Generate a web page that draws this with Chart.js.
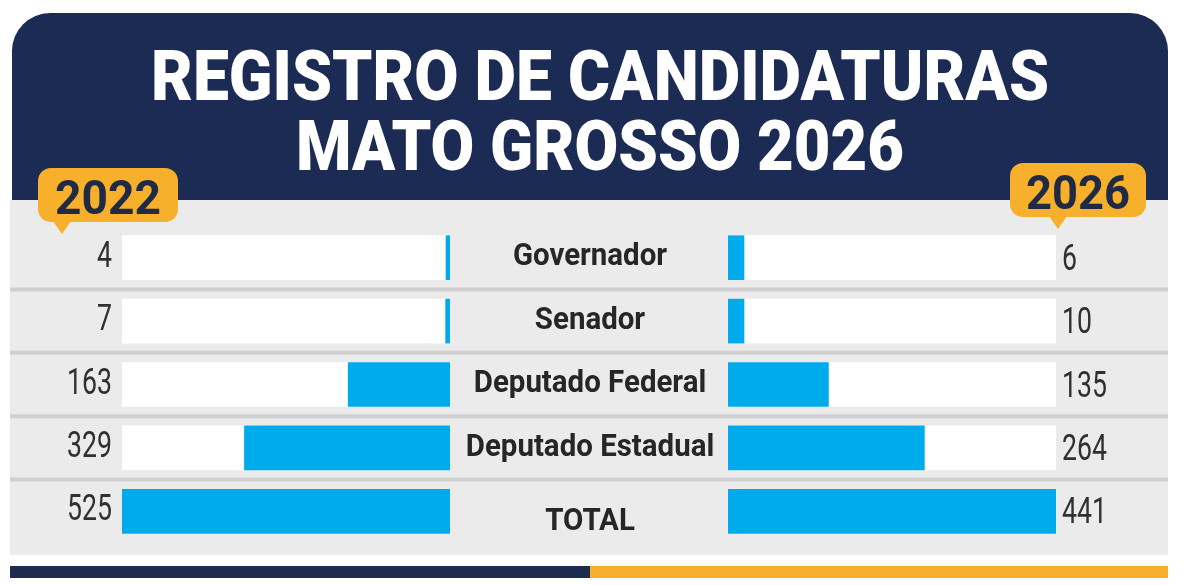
<!DOCTYPE html>
<html lang="pt-BR">
<head>
<meta charset="utf-8">
<title>Registro de candidaturas Mato Grosso 2026</title>
<script src="https://cdn.jsdelivr.net/npm/chart.js@4.4.1/dist/chart.umd.min.js"></script>
<style>
  html, body { margin: 0; padding: 0; background: #fff; }
  #page { position: relative; width: 1200px; height: 585px; overflow: hidden; font-family: Roboto, 'Noto Sans', sans-serif; }
  .abs { position: absolute; }
  #cabecalho { left: 12px; top: 13px; width: 1156px; height: 188px; background: #1c2b53; border-radius: 38px 38px 0 0; }
  #corpo { left: 10px; top: 200px; width: 1158px; height: 355px; background: #ebebeb; }
  #faixaAzul { left: 10px; top: 566px; width: 580px; height: 12px; background: #1d2b4f; }
  #faixaOuro { left: 590px; top: 566px; width: 578px; height: 12px; background: #f6b02d; }
  .linhaTitulo { left: 0; width: 1200px; text-align: center; color: #fff; font: 900 70px/70px Roboto, sans-serif; white-space: nowrap; }
  .linhaTitulo span, .selo span { display: inline-block; transform-origin: center center; }
  .selo { background: #f7b02b; border-radius: 13px; color: #1f2a44; font: bold 48px/54px Roboto, sans-serif; text-align: center; white-space: nowrap; box-sizing: border-box; padding-top: 3px; }
  .selo::after { content: ''; position: absolute; top: 53px; border-left: 9px solid transparent; border-right: 9px solid transparent; border-top: 13px solid #f7b02b; }
  #selo2022 { left: 38px; top: 168px; width: 140px; height: 54px; }
  #selo2022::after { left: 15px; }
  #selo2026 { left: 1010px; top: 163px; width: 136px; height: 54px; }
  #selo2026::after { left: 39px; }
  canvas { position: absolute; left: 0; top: 0; }
</style>
</head>
<body>
<div id="page">
  <div id="cabecalho" class="abs"></div>
  <div id="corpo" class="abs"></div>
  <div id="faixaAzul" class="abs"></div>
  <div id="faixaOuro" class="abs"></div>
  <div id="titulo1" class="abs linhaTitulo" style="top:41px"><span></span></div>
  <div id="titulo2" class="abs linhaTitulo" style="top:111px"><span></span></div>
  <canvas id="grafico2022" width="1200" height="585"></canvas>
  <canvas id="grafico2026" width="1200" height="585"></canvas>
  <div id="selo2022" class="abs selo"><span></span></div>
  <div id="selo2026" class="abs selo"><span></span></div>
</div>
<script>
//------------------------------------- Dados -------------------------------------
const titulo = ['REGISTRO DE CANDIDATURAS', 'MATO GROSSO 2026'];
const anos = ['2022', '2026'];
const categorias = ['Governador', 'Senador', 'Deputado Federal', 'Deputado Estadual', 'TOTAL'];
const valores2022 = [4, 7, 163, 329, 525];
const valores2026 = [6, 10, 135, 264, 441];

const AZUL = '#00abec';
const TEXTO = '#262626';
const NUMERO = '#303030';

//------------------------------------- Textos HTML -------------------------------------
// comprime o texto horizontalmente até a largura desejada
function ajustarLargura(el, largura) {
  const w = el.getBoundingClientRect().width;
  if (w > 0) el.style.transform = 'scaleX(' + (largura / w) + ')';
}

function preencher(id, texto, largura) {
  const span = document.querySelector('#' + id + ' span');
  span.textContent = texto;
  ajustarLargura(span, largura);
}

preencher('titulo1', titulo[0], 898);
preencher('titulo2', titulo[1], 608);
preencher('selo2022', anos[0], 106);
preencher('selo2026', anos[1], 104);

//------------------------------------- Desenho no canvas -------------------------------------
function textoCondensado(ctx, txt, x, y, align, escala) {
  ctx.save();
  ctx.translate(x, y);
  ctx.scale(escala, 1);
  ctx.textAlign = align;
  ctx.textBaseline = 'middle';
  ctx.fillText(txt, 0, 0);
  ctx.restore();
}

// linhas separadoras + rótulos das categorias + números de 2022
const pluginEsquerda = {
  id: 'rotulosEsquerda',
  beforeDatasetsDraw(chart) {
    const ctx = chart.ctx;
    const y = chart.scales.y;
    ctx.save();
    ctx.strokeStyle = '#cfcfcf';
    ctx.lineWidth = 4;
    for (let i = 0; i < categorias.length - 1; i++) {
      const yy = (y.getPixelForValue(i) + y.getPixelForValue(i + 1)) / 2;
      ctx.beginPath();
      ctx.moveTo(10, yy);
      ctx.lineTo(1168, yy);
      ctx.stroke();
    }
    ctx.restore();
  },
  afterDatasetsDraw(chart) {
    const ctx = chart.ctx;
    const y = chart.scales.y;
    const area = chart.chartArea;
    ctx.save();
    categorias.forEach((cat, i) => {
      const yy = y.getPixelForValue(i);
      ctx.fillStyle = TEXTO;
      ctx.font = 'bold 31px Roboto';
      const desloc = i === categorias.length - 1 ? 11 : 0;
      textoCondensado(ctx, cat, 590, yy + desloc, 'center', 0.95);
      ctx.fillStyle = NUMERO;
      ctx.font = '36px Roboto';
      textoCondensado(ctx, valores2022[i].toString(), area.left - 10, yy, 'right', 0.74);
    });
    ctx.restore();
  }
};

// números de 2026
const pluginDireita = {
  id: 'rotulosDireita',
  afterDatasetsDraw(chart) {
    const ctx = chart.ctx;
    const y = chart.scales.y;
    const area = chart.chartArea;
    ctx.save();
    ctx.fillStyle = NUMERO;
    ctx.font = '36px Roboto';
    valores2026.forEach((v, i) => {
      textoCondensado(ctx, v.toString(), area.right + 6, y.getPixelForValue(i) + 3, 'left', 0.74);
    });
    ctx.restore();
  }
};

function criarGrafico(id, valores, invertido, padding, minimo, plugin) {
  const maximo = Math.max(...valores);
  const fundo = valores.map(() => maximo);
  const ctx = document.getElementById(id).getContext('2d');
  return new Chart(ctx, {
    type: 'bar',
    data: {
      labels: categorias,
      datasets: [
        { data: valores, backgroundColor: AZUL, grouped: false, barThickness: 44, minBarLength: minimo, order: 0 },
        { data: fundo, backgroundColor: '#ffffff', grouped: false, barThickness: 44, order: 1 }
      ]
    },
    options: {
      indexAxis: 'y',
      responsive: false,
      animation: false,
      layout: { padding: padding },
      scales: {
        x: { type: 'linear', min: 0, max: maximo, reverse: invertido, display: false },
        y: { display: false }
      },
      plugins: { legend: { display: false }, tooltip: { enabled: false } }
    },
    plugins: [plugin]
  });
}

criarGrafico('grafico2022', valores2022, true, { left: 122, right: 750, top: 226, bottom: 42 }, 4, pluginEsquerda);
criarGrafico('grafico2026', valores2026, false, { left: 728, right: 144, top: 226, bottom: 42 }, 16, pluginDireita);
</script>
</body>
</html>
